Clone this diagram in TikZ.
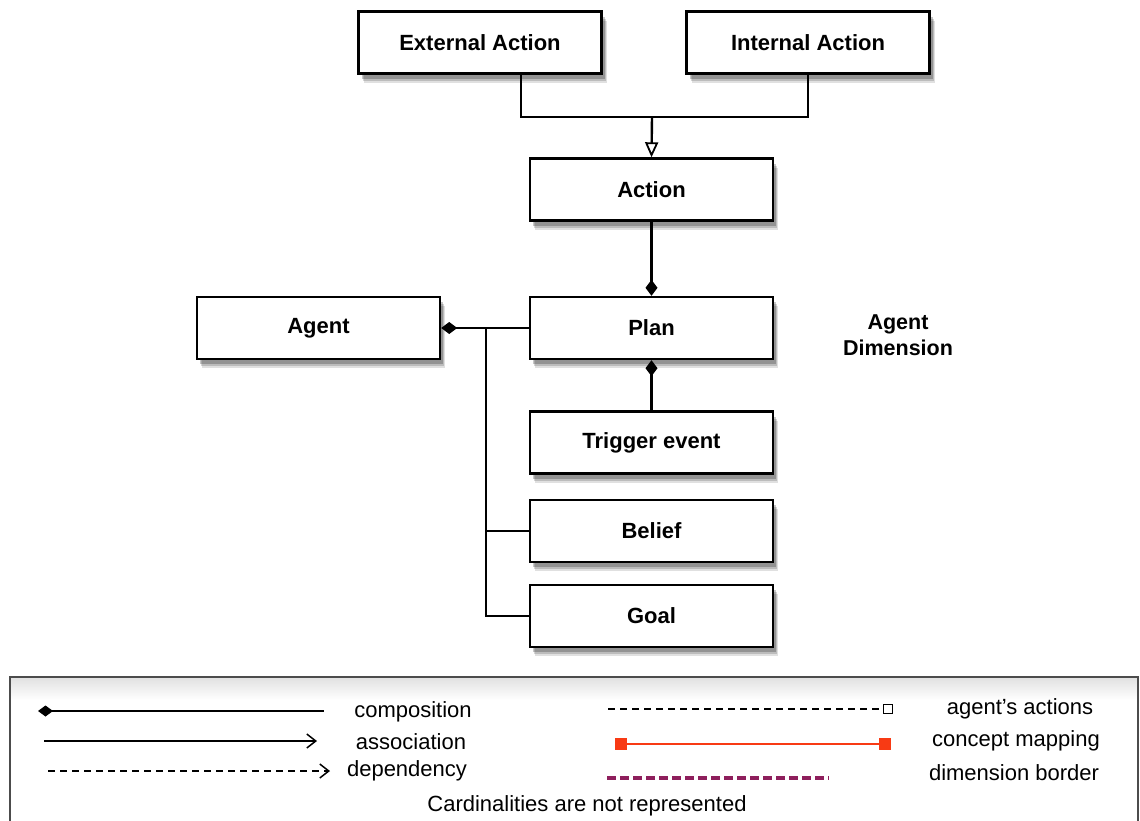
\documentclass[tikz,border=0pt]{standalone}
\usepackage{fontspec}
\setmainfont{Liberation Sans}
\usetikzlibrary{arrows.meta,shadows}
\definecolor{mapred}{HTML}{F83A14}
\definecolor{dimpurple}{HTML}{8E1F5C}
\begin{document}
\begin{tikzpicture}[x=1pt,y=-1pt,
  box/.style={draw=black,line width=2.4pt,fill=white,minimum width=243pt,minimum height=62pt,
    font=\fontsize{22}{26}\selectfont\bfseries,
    drop shadow={shadow xshift=5pt,shadow yshift=-9pt,opacity=0.12,fill=black},
    drop shadow={shadow xshift=4pt,shadow yshift=-7pt,opacity=0.16,fill=black},
    drop shadow={shadow xshift=3pt,shadow yshift=-5pt,opacity=0.22,fill=black}},
  conn/.style={line width=2.4pt},
  gen/.style={conn,-{Triangle[open,length=15pt,width=13pt,line width=1.8pt]}},
  comp/.style={conn,-{Diamond[length=16pt,width=12pt]}},
  legtext/.style={font=\fontsize{22}{26}\selectfont,anchor=center},
]
\useasboundingbox (0,0) rectangle (1140,820);
% boxes
\node[box] (ext) at (480,42.5) {External Action};
\node[box] (int) at (808,42.5) {Internal Action};
\node[box] (act) at (651.5,189.5) {Action};
\node[box] (plan) at (651.5,328) {Plan};
\node[box] (agent) at (318.5,328) {Agent};
\node[box] (trig) at (651.5,442.5) {Trigger event};
\node[box] (belief) at (651.5,531) {Belief};
\node[box] (goal) at (651.5,616) {Goal};
\node[font=\fontsize{21.5}{26}\selectfont\bfseries,align=center] (dim) at (898,335) {Agent\\Dimension};
% connectors
\coordinate (bus) at (652,117);
\draw[conn] ([xshift=41pt]ext.south) |- (bus) -| (int.south);
\draw[gen] (bus) -- (act.north);
\draw[comp] (act.south) -- (plan.north);
\draw[comp] (trig.north) -- (plan.south);
\draw[comp] (plan.west) -- (agent.east);
\coordinate (v) at (486,328);
\draw[conn] (v) |- (goal.west);
\draw[conn] (v |- belief.west) -- (belief.west);
% legend frame
\shade[top color=black!12,bottom color=white] (10,677) rectangle (1138,700);
\draw[line width=2.2pt,draw=black!70] (10,830) -- (10,677) -- (1138,677) -- (1138,830);
% legend left
\coordinate (c1) at (38,711); \coordinate (c2) at (324,711);
\draw[line width=1.8pt,{Diamond[length=15pt,width=11pt]}-] (c1) -- (c2);
\node[legtext] (tcomp) at (413,712) {composition};
\coordinate (a1) at (44,741); \coordinate (a2) at (317,741);
\draw[line width=1.8pt,-{Straight Barb[length=9pt,width=14pt,line width=1.5pt]}] (a1) -- (a2);
\node[legtext] (tassoc) at (411,742) {association};
\coordinate (d1) at (48,771); \coordinate (d2) at (330,771);
\draw[line width=1.3pt,dash pattern=on 7pt off 5pt,-{Straight Barb[length=9pt,width=14pt,line width=1.5pt]}] (d1) -- (d2);
\node[legtext] (tdep) at (407,771) {dependency};
\node[legtext] (tcard) at (587,806) {Cardinalities are not represented};
% legend right
\coordinate (g1) at (608,709); \coordinate (g2) at (882,709);
\draw[line width=1.3pt,dash pattern=on 7pt off 5pt] (g1) -- (g2);
\node[draw=black,line width=1.3pt,fill=white,minimum size=9pt,inner sep=0pt] (sq) at (888,709) {};
\node[legtext] (tact) at (1020,709) {agent's actions};
\node[fill=mapred,minimum size=12pt,inner sep=0pt] (r1) at (621,744) {};
\node[fill=mapred,minimum size=12pt,inner sep=0pt] (r2) at (885,744) {};
\draw[mapred,line width=2pt] (r1) -- (r2);
\node[legtext] (tmap) at (1016,741) {concept mapping};
\coordinate (p1) at (607,778); \coordinate (p2) at (829,778);
\draw[dimpurple,line width=3.2pt,dash pattern=on 9pt off 4pt] (p1) -- (p2);
\node[legtext] (tdim) at (1014,773) {dimension border};
\end{tikzpicture}
\end{document}
